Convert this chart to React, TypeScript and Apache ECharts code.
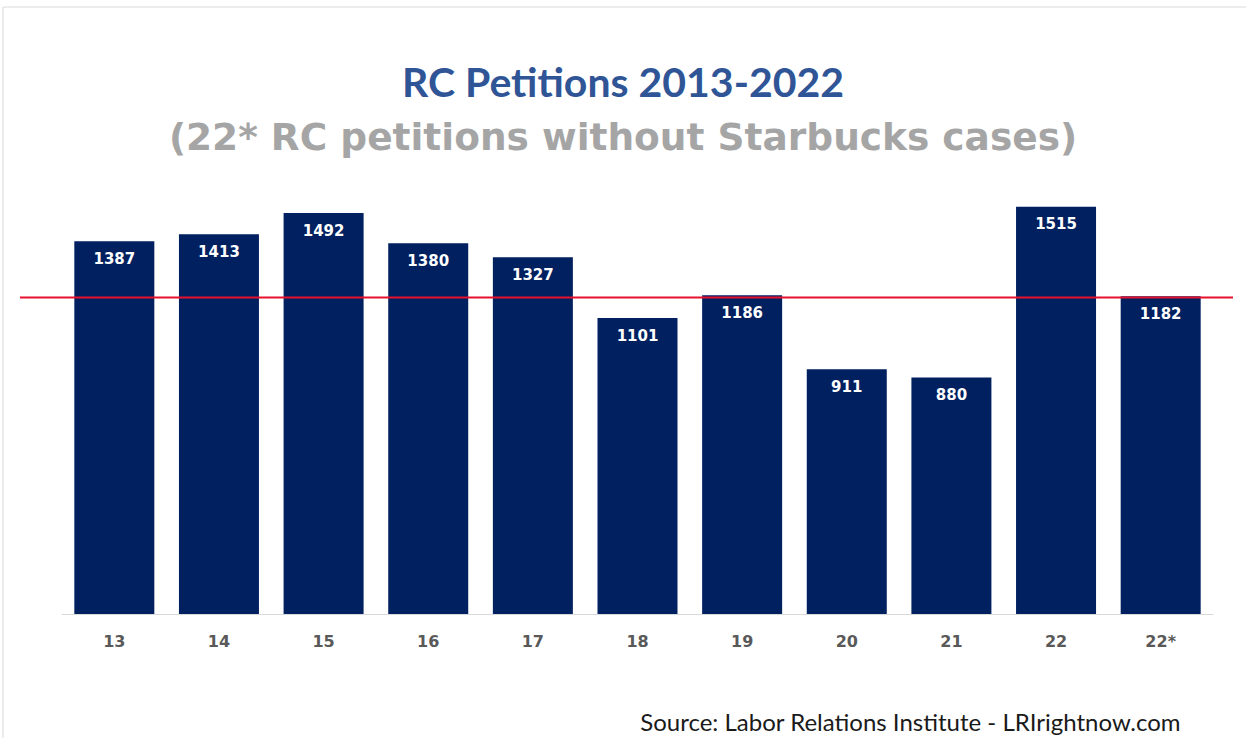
import React, { useEffect, useRef } from "react";
import * as echarts from "echarts";

const categories = ["13", "14", "15", "16", "17", "18", "19", "20", "21", "22", "22*"];
const petitions = [1387, 1413, 1492, 1380, 1327, 1101, 1186, 911, 880, 1515, 1182];
const referenceLevel = 1178;
const titleText = "RC Petitions 2013-2022";
const subtitleText = "(22* RC petitions without Starbucks cases)";
const sourceText = "Source: Labor Relations Institute - LRIrightnow.com";

export default function App() {
  const ref = useRef<HTMLDivElement>(null);
  useEffect(() => {
    if (!ref.current) return;
    const chart = echarts.init(ref.current, undefined, { renderer: "svg" });
    chart.setOption({
      animation: false,
      backgroundColor: "#ffffff",
      title: [
        {
          text: titleText,
          left: "center",
          top: 56,
          textStyle: { fontFamily: "Lato", fontWeight: "bold", fontSize: 41, color: "#2F5597" },
        },
        {
          text: subtitleText,
          left: "center",
          top: 113,
          textStyle: { fontFamily: "DejaVu Sans", fontWeight: "bold", fontSize: 37.5, color: "#a5a5a5" },
        },
        {
          text: sourceText,
          right: 60,
          top: 704,
          textStyle: { fontFamily: "Lato", fontWeight: "normal", fontSize: 24, color: "#1a1a1a" },
        },
      ],
      graphic: [
        {
          type: "rect",
          shape: { x: 3, y: 7, width: 1300, height: 800 },
          style: { fill: "none", stroke: "#d9d9d9", lineWidth: 1 },
          silent: true,
        },
      ],
      grid: [
        { left: 62, right: 33, top: 184, bottom: 124 },
        { left: 20, right: 13, top: 184, bottom: 124 },
      ],
      xAxis: [
        {
          type: "category",
          data: categories,
          gridIndex: 0,
          axisLine: { lineStyle: { color: "#d9d9d9", width: 1 } },
          axisTick: { show: false },
          axisLabel: {
            color: "#595959",
            fontWeight: "bold",
            fontSize: 16,
            fontFamily: "DejaVu Sans",
            margin: 19,
          },
        },
        {
          type: "category",
          data: ["a", "b"],
          gridIndex: 1,
          boundaryGap: false,
          show: false,
        },
      ],
      yAxis: [
        { type: "value", min: 0, max: 1600, gridIndex: 0, show: false, splitLine: { show: false } },
        { type: "value", min: 0, max: 1600, gridIndex: 1, show: false, splitLine: { show: false } },
      ],
      series: [
        {
          type: "bar",
          data: petitions,
          xAxisIndex: 0,
          yAxisIndex: 0,
          barWidth: 80,
          itemStyle: { color: "#002060" },
          label: {
            show: true,
            position: "insideTop",
            distance: 10,
            color: "#ffffff",
            fontWeight: "bold",
            fontSize: 15,
            fontFamily: "DejaVu Sans",
          },
        },
        {
          type: "line",
          data: [referenceLevel, referenceLevel],
          xAxisIndex: 1,
          yAxisIndex: 1,
          symbol: "none",
          lineStyle: { color: "#e8112d", width: 2 },
          z: 5,
        },
      ],
    });
    return () => chart.dispose();
  }, []);
  return (
    <div
      ref={ref}
      style={{ position: "absolute", left: 0, top: 0, width: 1246, height: 738 }}
    />
  );
}
